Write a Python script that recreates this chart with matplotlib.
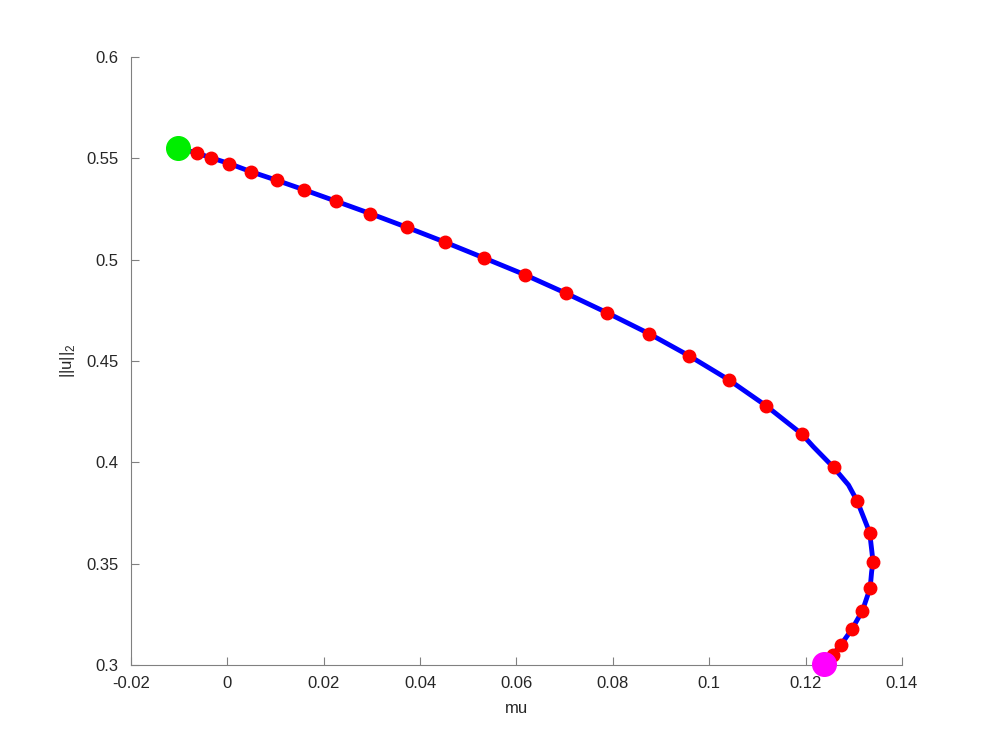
import matplotlib
matplotlib.use("Agg")
import matplotlib.pyplot as plt

plt.rcParams['font.family'] = ['Liberation Sans', 'DejaVu Sans']
plt.rcParams['mathtext.fontset'] = 'custom'
plt.rcParams['mathtext.rm'] = 'Liberation Sans'

# continuation branch: red markers
mu_pts = [-0.0064, -0.0034, 0.0004, 0.0049, 0.0102, 0.0160, 0.0226, 0.0297,
          0.0372, 0.0451, 0.0533, 0.0617, 0.0703, 0.0788, 0.0875, 0.0958,
          0.1040, 0.1118, 0.1192, 0.1258, 0.1307, 0.1333, 0.1340, 0.1334,
          0.1318, 0.1296, 0.1273, 0.1256]
u_pts = [0.5526, 0.5503, 0.5474, 0.5434, 0.5392, 0.5344, 0.5288, 0.5227,
         0.5160, 0.5087, 0.5008, 0.4926, 0.4834, 0.4738, 0.4635, 0.4526,
         0.4408, 0.4279, 0.4140, 0.3975, 0.3809, 0.3653, 0.3508, 0.3381,
         0.3268, 0.3176, 0.3099, 0.3049]

# full branch line (includes start / end and intermediate steps)
mu_start, u_start = -0.0102, 0.5553
mu_end, u_end = 0.1238, 0.3003
mu_line = ([mu_start] + mu_pts[:19] + [0.1216] + [mu_pts[19]] + [0.1289]
           + mu_pts[20:23] + [0.1337] + mu_pts[23:] + [mu_end])
u_line = ([u_start] + u_pts[:19] + [0.4077] + [u_pts[19]] + [0.3888]
          + u_pts[20:23] + [0.3460] + u_pts[23:] + [u_end])

xticks = [-0.02, 0, 0.02, 0.04, 0.06, 0.08, 0.1, 0.12, 0.14]
xlabels = ['-0.02', '0', '0.02', '0.04', '0.06', '0.08', '0.1', '0.12', '0.14']
yticks = [0.3, 0.35, 0.4, 0.45, 0.5, 0.55, 0.6]
ylabels = ['0.3', '0.35', '0.4', '0.45', '0.5', '0.55', '0.6']

fig = plt.figure(figsize=(9.97, 7.47), dpi=100)
ax = fig.add_axes([0.1314, 0.1098, 0.7733, 0.8139])

ax.plot(mu_line, u_line, color='#0000ff', lw=3.5, zorder=2)
ax.plot(mu_pts, u_pts, 'o', color='#ff0000', ms=9, zorder=3)
ax.plot(mu_start, u_start, 'o', color='#00ee00', ms=17, zorder=4)
ax.plot(mu_end, u_end, 'o', color='#ff00ff', ms=17, zorder=4, clip_on=False)

ax.set_xlim(-0.02, 0.14)
ax.set_ylim(0.3, 0.6)
ax.set_xticks(xticks)
ax.set_xticklabels(xlabels)
ax.set_yticks(yticks)
ax.set_yticklabels(ylabels)

ax.spines['top'].set_visible(False)
ax.spines['right'].set_visible(False)
for s in ['left', 'bottom']:
    ax.spines[s].set_color('#808080')
    ax.spines[s].set_linewidth(0.8)
ax.tick_params(direction='in', length=6, width=0.8, color='#808080',
               labelsize=12, labelcolor='#262626')
ax.tick_params(axis='x', pad=8)
ax.tick_params(axis='y', pad=9)

ax.set_xlabel('mu', fontsize=12, color='#262626', labelpad=7)
ax.set_ylabel('||u||$_2$', fontsize=12, color='#262626', labelpad=7)

fig.savefig('out.png', dpi=100)
